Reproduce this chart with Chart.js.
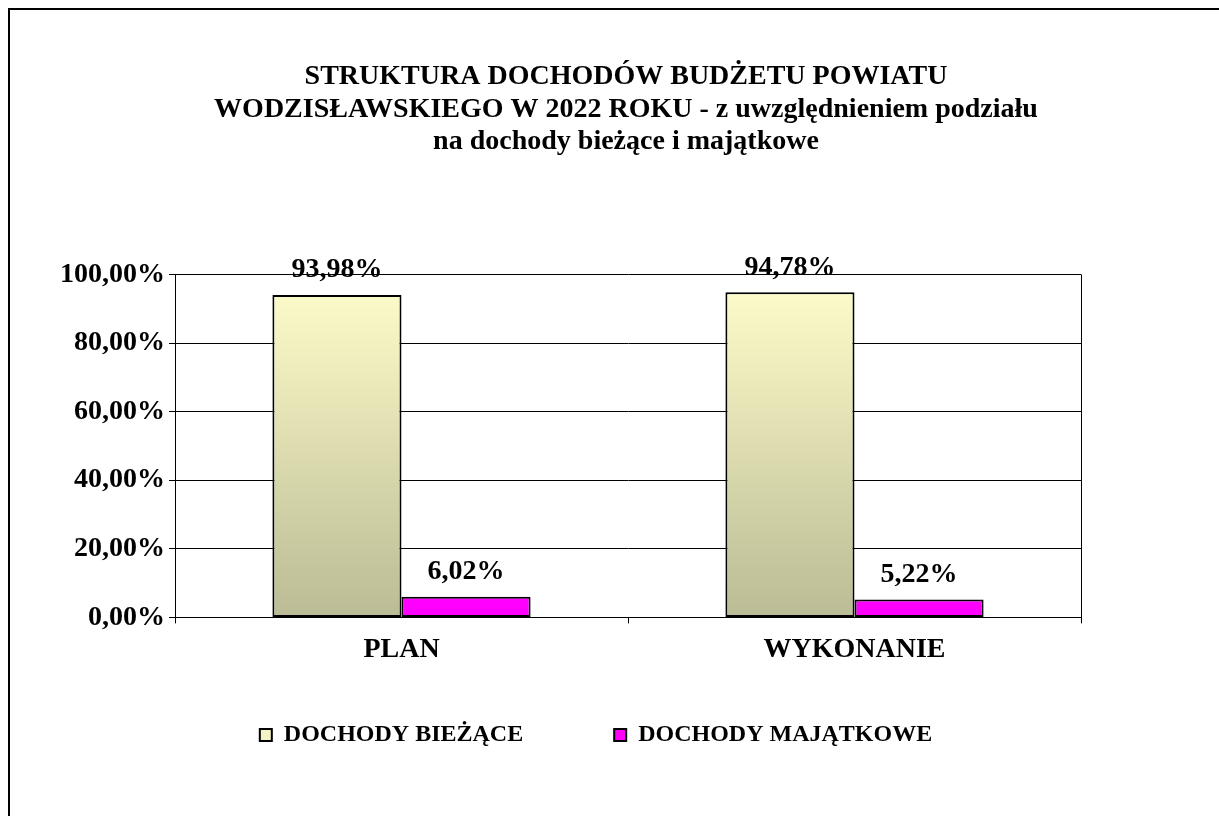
<!DOCTYPE html>
<html lang="pl">
<head>
<meta charset="utf-8">
<title>Struktura dochodów budżetu Powiatu Wodzisławskiego 2022</title>
<script src="https://cdn.jsdelivr.net/npm/chart.js@4.4.1/dist/chart.umd.min.js"></script>
<style>
  html, body { margin: 0; padding: 0; background: #fff; }
  #wrap { position: relative; width: 1219px; height: 816px; overflow: hidden; }
  #frame { position: absolute; left: 8px; top: 8px; width: 1300px; height: 900px;
           border-left: 2px solid #000; border-top: 2px solid #000; }
  canvas { position: absolute; left: 0; top: 0; }
</style>
</head>
<body>
<div id="wrap">
  <div id="frame"></div>
  <canvas id="wykres" width="1219" height="816"></canvas>
</div>
<script>
// dane
const kategorie = ["PLAN", "WYKONANIE"];
const dochodyBiezace = [93.98, 94.78];
const dochodyMajatkowe = [6.02, 5.22];
const nazwySerii = ["DOCHODY BIEŻĄCE", "DOCHODY MAJĄTKOWE"];
const tytul = [
    "STRUKTURA DOCHODÓW BUDŻETU POWIATU",
    "WODZISŁAWSKIEGO W 2022 ROKU - z uwzględnieniem podziału",
    "na dochody bieżące i majątkowe"
];
const osYmin = 0;
const osYmax = 100;
const osYkrok = 20;

const czcionka = "'Liberation Serif', 'Times New Roman', serif";

function formatProc(v) {
    return v.toFixed(2).replace(".", ",") + "%";
}

// gradient słupków "bieżące" - jasnożółty u góry, oliwkowy u dołu
function gradientBiezace(ctx) {
    const chart = ctx.chart;
    const a = chart.chartArea;
    if (!a) return "#F3F3C6";
    const g = chart.ctx.createLinearGradient(0, a.top, 0, a.bottom);
    g.addColorStop(0, "#FFFFCC");
    g.addColorStop(1, "#BBBB95");
    return g;
}

// etykiety z wartościami nad słupkami
const etykietyWartosci = {
    id: "etykietyWartosci",
    afterDatasetsDraw(chart) {
        const ctx = chart.ctx;
        ctx.save();
        ctx.font = "bold 28px " + czcionka;
        ctx.fillStyle = "#000";
        ctx.textAlign = "center";
        ctx.textBaseline = "middle";
        chart.data.datasets.forEach((ds, i) => {
            chart.getDatasetMeta(i).data.forEach((bar, j) => {
                ctx.fillText(formatProc(ds.data[j]), bar.x, bar.y - 25);
            });
        });
        ctx.restore();
    }
};

// prawa krawędź obszaru wykresu
const ramkaWykresu = {
    id: "ramkaWykresu",
    beforeDatasetsDraw(chart) {
        const { ctx, chartArea: a } = chart;
        ctx.save();
        ctx.strokeStyle = "#000";
        ctx.lineWidth = 1;
        ctx.beginPath();
        ctx.moveTo(Math.round(a.right) + 0.5, a.top);
        ctx.lineTo(Math.round(a.right) + 0.5, a.bottom);
        ctx.stroke();
        ctx.restore();
    }
};

// legenda trochę w lewo i w górę, jak w oryginale
const przesunLegende = {
    id: "przesunLegende",
    afterLayout(chart) {
        const l = chart.legend;
        if (!l) return;
        l.left -= 30; l.right -= 30;
        l.top -= 45; l.bottom -= 45;
    }
};

new Chart(document.getElementById("wykres"), {
    type: "bar",
    data: {
        labels: kategorie,
        datasets: [{
            label: nazwySerii[0],
            data: dochodyBiezace,
            backgroundColor: gradientBiezace,
            borderColor: "#000",
            borderWidth: 2,
            borderSkipped: false,
            categoryPercentage: 0.57,
            barPercentage: 1.0
        }, {
            label: nazwySerii[1],
            data: dochodyMajatkowe,
            backgroundColor: "#FF00FF",
            borderColor: "#000",
            borderWidth: 2,
            borderSkipped: false,
            categoryPercentage: 0.57,
            barPercentage: 1.0
        }]
    },
    options: {
        responsive: false,
        animation: false,
        devicePixelRatio: 1,
        layout: { padding: { left: 33, right: 0, top: 0, bottom: 14 } },
        plugins: {
            title: {
                display: true,
                text: tytul,
                color: "#000",
                font: { family: czcionka, size: 28, weight: "bold", lineHeight: 1.16 },
                padding: { top: 61, bottom: 116 }
            },
            legend: {
                position: "bottom",
                labels: {
                    color: "#000",
                    font: { family: czcionka, size: 24, weight: "bold" },
                    boxWidth: 12,
                    boxHeight: 12,
                    padding: 91,
                    generateLabels(chart) {
                        const items = Chart.defaults.plugins.legend.labels.generateLabels(chart);
                        items[0].fillStyle = "#F3F3C6"; // jasny kwadracik jak w oryginale
                        return items;
                    }
                }
            },
            tooltip: { enabled: false }
        },
        scales: {
            x: {
                offset: true,
                grid: { offset: true, drawOnChartArea: false, drawTicks: true, tickLength: 6, color: "#000" },
                border: { color: "#000", width: 1 },
                ticks: { color: "#000", padding: 10, font: { family: czcionka, size: 28, weight: "bold" } }
            },
            y: {
                min: osYmin,
                max: osYmax,
                afterFit(s) { s.width = 142; },
                grid: { color: "#000", tickLength: 6 },
                border: { color: "#000", width: 1 },
                ticks: {
                    stepSize: osYkrok,
                    color: "#000",
                    padding: 4,
                    font: { family: czcionka, size: 28, weight: "bold" },
                    callback: (v) => formatProc(v)
                }
            },
            y2: {
                position: "right",
                min: osYmin,
                max: osYmax,
                afterFit(s) { s.width = 138; },
                grid: { display: false },
                border: { display: false },
                ticks: { display: false }
            }
        }
    },
    plugins: [etykietyWartosci, ramkaWykresu, przesunLegende]
});
</script>
</body>
</html>
